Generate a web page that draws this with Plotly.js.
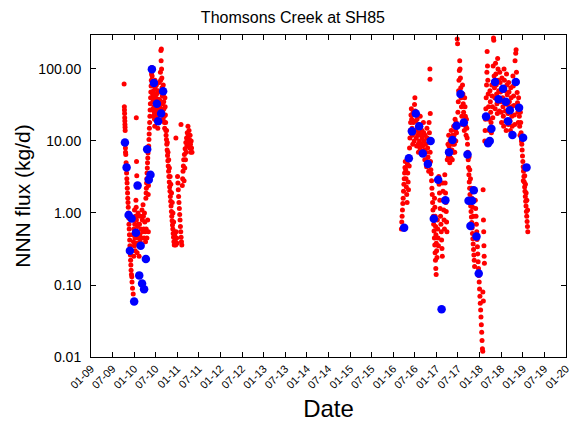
<!DOCTYPE html>
<html><head><meta charset="utf-8">
<script src="https://cdn.plot.ly/plotly-3.0.1.min.js"></script>
<style>html,body{margin:0;padding:0;background:#fff}</style>
</head><body><div id="chart" style="width:580px;height:428px"></div>
<script>
// ---- Daily flux estimates (red) ----
const redDatesA1 = ['2009-10-08','2009-10-10','2009-10-11','2009-10-12','2009-10-13','2009-10-14','2009-10-15','2009-10-16','2009-10-17','2009-10-18',
'2009-10-19','2009-10-20','2009-10-22','2009-10-25','2009-10-27','2009-10-29','2009-10-31','2009-11-02','2009-11-04','2009-11-06',
'2009-11-08','2009-11-10','2009-11-12','2009-11-14','2009-11-16','2009-11-18','2009-11-20','2009-11-22','2009-11-24','2009-11-26',
'2009-11-28','2009-11-30','2009-12-02','2009-12-04','2009-12-06','2009-12-09','2009-12-12','2009-12-14','2009-12-18','2009-12-24'];
const redFluxA1 = [62,30,27,24,21,19,17,15.5,14,9,
8,7,6.5,5.0,4.2,3.6,3.0,2.6,2.2,1.9,
1.6,1.4,1.2,1.0,0.85,0.7,0.6,0.5,0.42,0.35,
0.30,0.26,0.22,0.19,0.16,0.14,0.13,0.11,0.09,0.075];

const redDatesA2 = ['2009-12-20','2009-12-22','2009-12-26','2009-12-28','2009-12-30','2010-01-02','2010-01-04','2010-01-06','2010-01-08','2010-01-10',
'2010-01-12','2010-01-14','2010-01-16','2010-01-18','2010-01-19','2010-01-20','2010-01-21','2010-01-22','2010-01-23','2010-01-24',
'2010-01-26','2010-01-28','2010-01-30','2010-02-01','2010-02-03','2010-02-05','2010-02-07','2010-02-09','2010-02-12','2010-02-15',
'2010-02-18','2010-02-21','2010-02-24','2010-02-27','2010-03-02','2010-03-05','2010-03-08','2010-03-11','2010-03-14','2010-03-17',
'2010-03-20','2010-03-23','2010-03-26','2010-03-29','2010-04-01','2010-04-04','2010-04-07'];
const redFluxA2 = [0.5,0.8,0.4,0.25,0.6,0.35,1.1,0.7,0.45,0.3,
0.9,0.55,1.5,1.2,21,0.8,5.2,0.5,3.3,0.38,
0.28,0.9,0.65,0.45,1.0,0.7,0.5,0.35,0.25,0.7,
0.5,0.4,0.9,0.6,0.45,0.35,1.1,0.8,0.55,1.3,
0.9,0.6,0.45,1.0,0.75,0.55,0.4];

const redDatesA3 = ['2010-04-10','2010-04-12','2010-04-13','2010-04-14','2010-04-16','2010-04-18','2010-04-19','2010-04-20','2010-04-22','2010-04-24',
'2010-04-25','2010-04-26','2010-04-28','2010-04-30','2010-05-01','2010-05-02','2010-05-04','2010-05-06','2010-05-08','2010-05-10',
'2010-05-12','2010-05-14','2010-05-16','2010-05-18','2010-05-20','2010-05-22','2010-05-24','2010-05-26','2010-05-28','2010-05-30'];
const redFluxA3 = [1.6,1.9,0.6,2.2,2.6,3.0,0.45,3.6,4.2,5.0,
0.8,5.8,6.8,1.8,0.55,2.4,8.5,10.5,12.5,15,
18,22,27,33,40,48,58,70,85,105];

const redDatesA4 = ['2010-06-02','2010-06-04','2010-06-06','2010-06-08','2010-06-10','2010-06-12','2010-06-14','2010-06-16','2010-06-18','2010-06-20',
'2010-06-22','2010-06-24','2010-06-26','2010-06-28','2010-06-30','2010-07-02','2010-07-04','2010-07-06','2010-07-08','2010-07-10',
'2010-07-12','2010-07-14','2010-07-16','2010-07-18','2010-07-20','2010-07-22','2010-07-24','2010-07-26','2010-07-28','2010-07-30',
'2010-08-01','2010-08-03','2010-08-05','2010-08-07','2010-08-09','2010-08-11','2010-08-13','2010-08-15','2010-08-17','2010-08-19',
'2010-08-21','2010-08-23','2010-08-25','2010-08-27','2010-08-29','2010-08-31','2010-09-02','2010-09-04','2010-09-06','2010-09-08',
'2010-09-10','2010-09-12','2010-09-14','2010-09-16','2010-09-18','2010-09-20','2010-09-22','2010-09-24','2010-09-26'];
const redFluxA4 = [80,60,45,35,28,22,50,40,30,25,
20,16,70,55,42,33,26,21,60,45,
36,28,23,18,15,50,38,30,24,19,
65,48,37,29,23,90,70,180,130,190,
100,75,55,42,33,26,20,60,45,35,
28,22,18,15,40,30,23,18,14];

const redDatesA5 = ['2010-09-28','2010-10-01','2010-10-04','2010-10-07','2010-10-10','2010-10-13','2010-10-16','2010-10-19','2010-10-22','2010-10-25',
'2010-10-28','2010-10-31','2010-11-03','2010-11-06','2010-11-09','2010-11-12','2010-11-15','2010-11-18','2010-11-21','2010-11-24',
'2010-11-27','2010-11-30','2010-12-03','2010-12-06','2010-10-02','2010-10-08','2010-10-14','2010-10-20','2010-10-26','2010-11-01',
'2010-11-07','2010-11-13','2010-11-19','2010-11-25','2010-12-01','2010-12-07'];
const redFluxA5 = [12,10.5,9,7.5,6.3,5.3,4.5,3.8,3.2,2.7,
2.3,2.0,1.7,1.45,1.25,1.05,0.9,0.78,0.68,0.6,
0.52,0.46,0.4,0.36,14,9.5,7,5.5,4.2,3.2,
2.5,1.9,1.4,1.0,0.75,0.55];

const redDatesA6 = ['2010-12-10','2010-12-14','2010-12-18','2010-12-20','2010-12-22','2010-12-26','2010-12-30','2011-01-03','2011-01-06','2011-01-09',
'2011-01-12','2011-01-15','2011-01-18','2011-01-21','2011-01-24','2011-01-27','2011-01-30','2011-02-01','2011-02-02','2011-02-05',
'2011-02-08','2011-02-12','2011-02-15','2011-02-18','2011-02-21','2011-02-24','2011-02-27','2011-03-02','2011-03-05','2011-03-08',
'2011-03-11','2011-03-14','2011-03-17','2011-03-20','2011-03-23','2011-03-26','2011-03-29','2011-04-01','2011-04-04','2011-04-07',
'2011-04-10','2011-04-13','2011-04-16','2011-04-19','2011-04-22','2011-04-25','2011-04-28','2011-05-01','2011-05-05'];
const redFluxA6 = [0.5,0.42,0.36,11,0.55,0.45,0.38,3.2,2.6,2.1,
1.7,1.4,1.15,0.95,0.8,0.65,0.55,17,0.46,0.4,
0.36,2.4,3.0,3.8,4.5,5.5,2.8,6.5,4.2,7.8,
5.5,9.5,7,11,8.5,13,10,16,12,9,
14,10.5,8,12,9,7,10,8,7];

const redDatesB1 = ['2016-03-10','2016-03-13','2016-03-16','2016-03-19','2016-03-22','2016-03-25','2016-03-28','2016-03-31','2016-04-03','2016-04-06',
'2016-04-09','2016-04-12','2016-04-15','2016-04-18','2016-04-21','2016-04-24','2016-04-27','2016-04-30','2016-05-03','2016-05-06',
'2016-05-09','2016-05-12','2016-05-15'];
const redFluxB1 = [0.6,0.75,0.9,1.1,1.35,1.6,2.0,2.5,3.0,3.6,
4.3,5.2,4.0,3.0,2.3,1.8,1.4,4.8,3.6,2.7,
2.1,6.0,4.5];

const redDatesB2 = ['2016-05-18','2016-05-21','2016-05-24','2016-05-27','2016-05-30','2016-06-02','2016-06-05','2016-06-08','2016-06-11','2016-06-14',
'2016-06-17','2016-06-20','2016-06-23','2016-06-26','2016-06-29','2016-07-02','2016-07-05','2016-07-08','2016-07-11','2016-07-14',
'2016-07-17','2016-07-20','2016-07-23','2016-07-26','2016-07-29','2016-08-01','2016-08-04','2016-08-07','2016-08-10','2016-08-13',
'2016-08-16','2016-08-19','2016-08-22','2016-08-25','2016-08-28','2016-08-31','2016-09-03','2016-09-06','2016-09-09','2016-09-12',
'2016-09-15','2016-09-18','2016-09-21','2016-09-24','2016-09-27','2016-09-30','2016-10-03','2016-10-06','2016-10-09','2016-10-12',
'2016-10-15','2016-10-18','2016-10-21','2016-10-24','2016-10-27','2016-10-30','2016-11-02','2016-11-05','2016-11-06','2016-11-07',
'2016-11-08','2016-11-09','2016-11-11','2016-11-14'];
const redFluxB2 = [8,11,14,18,23,28,20,15,12,9,
25,18,13,10,32,40,26,19,14,11,
8.5,20,15,12,9,7,17,13,10,8,
22,16,12,9,7,14,11,8.5,6.5,18,
13,10,7.5,5.5,12,9,7,5.5,4.4,15,
11,8,6,4.6,3.8,18,13,9.5,100,72,
7,24,5.2,4];

const redDatesB3 = ['2016-11-17','2016-11-20','2016-11-23','2016-11-26','2016-11-29','2016-12-02','2016-12-05','2016-12-08','2016-12-11','2016-12-14',
'2016-12-17','2016-12-20','2016-12-23','2016-12-26','2016-12-29','2016-12-15','2016-12-18','2016-12-21','2016-12-24','2016-12-27',
'2016-12-30','2017-01-02','2017-01-05','2017-01-08','2017-01-11','2017-01-14','2017-01-17','2017-01-20','2017-01-23','2017-01-26',
'2017-01-29','2017-02-01','2017-02-04','2017-02-07','2017-02-10','2017-02-13','2017-02-16','2017-02-19','2017-02-22','2017-02-25',
'2017-02-28','2017-03-03','2017-03-06','2017-03-09','2017-03-12','2017-03-15','2017-03-18','2017-03-21','2017-03-24','2017-03-27',
'2017-03-30'];
const redFluxB3 = [3.5,2.8,2.2,1.8,1.4,1.1,0.9,0.7,0.56,0.45,
0.36,0.28,0.22,0.17,0.14,1.6,1.2,0.9,0.65,0.5,
0.38,0.3,0.24,0.8,0.6,0.45,0.35,3.2,2.5,1.9,
1.5,1.15,0.9,0.7,0.55,0.42,0.32,0.25,2.6,2.0,
1.5,1.1,0.8,0.6,3.4,2.6,1.9,1.4,1.05,0.75,
0.55];

const redDatesB4 = ['2017-04-02','2017-04-05','2017-04-08','2017-04-11','2017-04-14','2017-04-17','2017-04-20','2017-04-23','2017-04-26','2017-04-29',
'2017-05-02','2017-05-05','2017-05-08','2017-05-11','2017-05-14','2017-05-17','2017-05-20','2017-05-23','2017-05-26','2017-05-29',
'2017-06-01','2017-06-04','2017-06-07','2017-06-10','2017-06-13','2017-06-16','2017-06-19'];
const redFluxB4 = [5.5,7,9,6,12,8.5,6.2,5,10,7.5,
5.8,14,10,7.5,5.5,12,9,7,16,12,
9,7,20,14,10,18,13];

const redDatesB5 = ['2017-06-25','2017-06-28','2017-07-01','2017-07-04','2017-07-07','2017-07-10','2017-07-13','2017-07-16','2017-07-19','2017-07-22',
'2017-07-25','2017-07-28','2017-07-31','2017-08-03','2017-08-06','2017-08-09','2017-08-12','2017-08-15','2017-08-18','2017-08-21',
'2017-08-24','2017-08-27','2017-08-30','2017-09-02','2017-09-05','2017-09-08','2017-09-11','2017-09-14','2017-09-17'];
const redFluxB5 = [260,225,25,35,50,70,95,130,100,75,
55,40,30,22,17,60,45,33,25,19,
14,40,30,22,16,12,20,15,11];

const redDatesB6 = ['2017-09-20','2017-09-23','2017-09-26','2017-09-29','2017-10-02','2017-10-05','2017-10-08','2017-10-11','2017-10-14','2017-10-17',
'2017-10-20','2017-10-23','2017-10-26','2017-10-29','2017-11-01','2017-11-04','2017-11-07','2017-11-10','2017-11-13','2017-11-16',
'2017-11-19','2017-10-03','2017-10-09','2017-10-15','2017-10-21','2017-10-27','2017-11-02','2017-11-08'];
const redFluxB6 = [9,7,5.5,4.3,3.4,2.7,2.2,1.8,1.5,1.25,
1.05,0.88,0.74,0.62,0.52,0.44,0.37,0.31,0.26,0.22,
0.18,6,4,3,2.2,1.6,1.2,0.9];

const redDatesB7 = ['2017-11-22','2017-11-25','2017-11-28','2017-12-01','2017-12-04','2017-12-07','2017-12-10','2017-12-13','2017-12-16','2017-12-19',
'2017-12-22','2017-12-25','2017-12-28','2017-12-31','2018-01-03','2018-01-06','2018-01-09','2018-01-12','2018-01-15','2018-01-18',
'2018-01-21','2018-01-24','2018-01-27','2018-01-28','2018-01-30','2018-02-01','2018-02-02','2018-02-04','2018-02-06','2018-02-08',
'2018-02-10'];
const redFluxB7 = [2.0,1.5,1.15,0.9,0.7,0.55,0.43,0.34,0.27,0.21,
0.17,0.135,0.11,0.088,0.07,0.056,0.045,0.036,0.028,0.022,
0.017,0.013,0.012,0.08,2.1,0.06,0.8,0.55,0.35,0.25,
0.2];

const redDatesB8 = ['2018-02-13','2018-02-16','2018-02-19','2018-02-22','2018-02-25','2018-02-28','2018-03-03','2018-03-05','2018-03-08','2018-03-11',
'2018-03-14','2018-03-17','2018-03-20','2018-03-23','2018-03-26','2018-03-29','2018-04-01','2018-04-04','2018-04-07','2018-04-10',
'2018-04-13','2018-04-16','2018-04-19','2018-04-22','2018-04-25','2018-04-28','2018-04-30','2018-05-03','2018-05-06','2018-05-09',
'2018-05-12','2018-05-15','2018-05-18','2018-05-21','2018-05-24','2018-05-27','2018-05-30','2018-06-02','2018-06-05','2018-06-08',
'2018-06-11','2018-06-14','2018-06-17'];
const redFluxB8 = [10,14,20,28,40,60,90,175,110,70,
45,30,20,14,10.5,50,35,25,18,13,
60,42,30,21,110,270,250,80,55,40,
28,120,85,60,45,33,24,140,100,70,
50,36,26];

const redDatesB9 = ['2018-06-20','2018-06-23','2018-06-26','2018-06-29','2018-07-02','2018-07-05','2018-07-08','2018-07-11','2018-07-14','2018-07-17',
'2018-07-20','2018-07-23','2018-07-26','2018-07-29','2018-08-01','2018-08-04','2018-08-07','2018-08-10','2018-08-13','2018-08-16',
'2018-08-19','2018-08-22','2018-08-25','2018-08-28','2018-08-31','2018-09-03','2018-09-06','2018-09-09','2018-09-12','2018-09-15',
'2018-09-18','2018-09-21','2018-09-24','2018-09-27','2018-09-30','2018-10-03','2018-10-06','2018-10-09','2018-10-12','2018-10-15',
'2018-10-18','2018-10-21','2018-10-24','2018-10-27','2018-11-02','2018-11-05','2018-11-08','2018-11-11','2018-11-14','2018-11-17',
'2018-11-20','2018-11-23','2018-11-26','2018-11-29','2018-12-02','2018-12-05','2018-12-08','2018-12-11','2018-12-14','2018-12-17',
'2018-12-20'];
const redFluxB9 = [90,65,48,35,25,18,75,55,40,30,
22,16,100,70,50,36,26,19,14,85,
60,44,32,24,17,65,48,35,26,19,
14,55,40,30,22,16,12,80,58,42,
31,23,17,130,165,185,90,65,47,34,
25,18,40,30,22,16,12,25,18,13,
10];

const redDatesB10 = ['2018-12-23','2018-12-26','2018-12-29','2019-01-01','2019-01-04','2019-01-07','2019-01-10','2019-01-13','2019-01-16','2019-01-19',
'2019-01-22','2019-01-25','2019-01-28','2019-01-31','2019-02-03','2019-02-06','2019-02-09','2019-02-12','2019-01-05','2019-01-11',
'2019-01-17','2019-01-23','2019-01-29','2019-02-04','2019-02-10'];
const redFluxB10 = [9,7.5,6.2,5.2,4.4,3.8,3.2,2.7,2.3,2.0,
1.7,1.45,1.25,1.05,0.9,0.76,0.65,0.55,2.8,4.0,
3.3,2.5,1.9,1.5,1.1];

// ---- Sampled flux (blue) ----
const sampleDates = ['2009-10-15','2009-10-29','2010-01-30','2009-11-15','2009-12-10','2010-01-16','2009-11-26','2010-02-25','2010-04-10','2010-02-13',
'2010-03-09','2010-03-26','2010-01-01','2010-04-21','2010-05-19','2010-05-05','2010-05-31','2010-06-17','2010-09-03','2010-07-12',
'2010-08-17','2010-07-23',
'2016-04-02','2016-05-12','2016-06-07','2016-07-10','2016-08-07','2016-09-07','2016-10-20','2016-11-12','2017-01-15','2016-12-09',
'2017-03-17','2017-02-13','2017-04-17','2017-05-16','2017-06-19','2017-07-23','2017-08-20','2017-09-20','2017-11-12','2017-09-29',
'2017-10-29','2017-10-15','2017-12-05','2017-12-24','2018-02-24','2018-04-10','2018-03-13','2018-03-27','2018-05-11','2018-06-09',
'2018-07-18','2018-08-10','2018-09-13','2018-08-29','2018-10-05','2018-11-02','2018-11-30','2019-01-03','2019-02-01'];
const sampleFlux = [9.5,4.3,2.4,0.94,0.84,0.53,0.30,0.35,0.23,0.136,
0.105,0.087,0.059,7.7,3.4,2.9,99,64,49,33,
24,18.8,
0.625,5.75,13.6,24,16,6.7,4.8,10,2.9,0.83,
1.5,0.046,7.0,10.3,16.3,45,18,6.5,2.07,1.48,
1.48,0.66,0.47,0.144,21.8,14.8,9.3,10,66,38,
53,35,26.7,18.8,12.1,66,29,11.1,4.3];

// ---- Axis ticks ----
const xTickVals = ['2009-01-01','2009-07-01','2010-01-01','2010-07-01','2011-01-01','2011-07-01','2012-01-01','2012-07-01',
'2013-01-01','2013-07-01','2014-01-01','2014-07-01','2015-01-01','2015-07-01','2016-01-01','2016-07-01',
'2017-01-01','2017-07-01','2018-01-01','2018-07-01','2019-01-01','2019-07-01','2020-01-01'];
const xTickText = ['01-09','07-09','01-10','07-10','01-11','07-11','01-12','07-12','01-13','07-13','01-14','07-14',
'01-15','07-15','01-16','07-16','01-17','07-17','01-18','07-18','01-19','07-19','01-20'];
const yTickVals = [0.01,0.1,1,10,100];
const yTickText = ['0.01','0.10','1.00','10.00','100.00'];

const redDates = [].concat(redDatesA1,redDatesA2,redDatesA3,redDatesA4,redDatesA5,redDatesA6,
  redDatesB1,redDatesB2,redDatesB3,redDatesB4,redDatesB5,redDatesB6,redDatesB7,redDatesB8,redDatesB9,redDatesB10);
const redFlux = [].concat(redFluxA1,redFluxA2,redFluxA3,redFluxA4,redFluxA5,redFluxA6,
  redFluxB1,redFluxB2,redFluxB3,redFluxB4,redFluxB5,redFluxB6,redFluxB7,redFluxB8,redFluxB9,redFluxB10);

const traces = [
  {x: redDates, y: redFlux, type:'scatter', mode:'markers', marker:{color:'#ff0000', size:5, line:{width:0}}, hoverinfo:'x+y'},
  {x: sampleDates, y: sampleFlux, type:'scatter', mode:'markers', marker:{color:'#0000ff', size:8.5, line:{width:0}}, hoverinfo:'x+y'}
];

const layout = {
  width:580, height:428,
  margin:{l:91, r:14, t:35, b:71},
  paper_bgcolor:'#fff', plot_bgcolor:'#fff',
  showlegend:false,
  font:{family:'Liberation Sans, Arial, sans-serif', color:'#000'},
  title:{text:'Thomsons Creek at SH85', font:{size:16, family:'Liberation Sans Narrow, Liberation Sans, Arial, sans-serif'},
         x:0.505, xref:'container', xanchor:'center', y:0.959, yref:'container', yanchor:'middle'},
  xaxis:{type:'date', range:['2009-01-01','2020-01-01'], tickmode:'array', tickvals:xTickVals, ticktext:xTickText,
         tickangle:-45, ticks:'inside', ticklen:5, tickcolor:'#000', tickwidth:1,
         showline:true, linecolor:'#000', linewidth:1, mirror:'ticks', showgrid:false, zeroline:false,
         tickfont:{size:11}, title:{text:'Date', font:{size:24}, standoff:10}, automargin:false},
  yaxis:{type:'log', range:[-2, 2.472], tickmode:'array', tickvals:yTickVals, ticktext:yTickText,
         ticks:'inside', ticklen:5, tickcolor:'#000', tickwidth:1,
         showline:true, linecolor:'#000', linewidth:1, mirror:'ticks', showgrid:false, zeroline:false,
         tickfont:{size:14}, ticklabelstandoff:6, title:{text:'NNN flux (kg/d)', font:{size:21}, standoff:2}, automargin:false}
};

Plotly.newPlot('chart', traces, layout, {displayModeBar:false, staticPlot:true});
</script></body></html>
